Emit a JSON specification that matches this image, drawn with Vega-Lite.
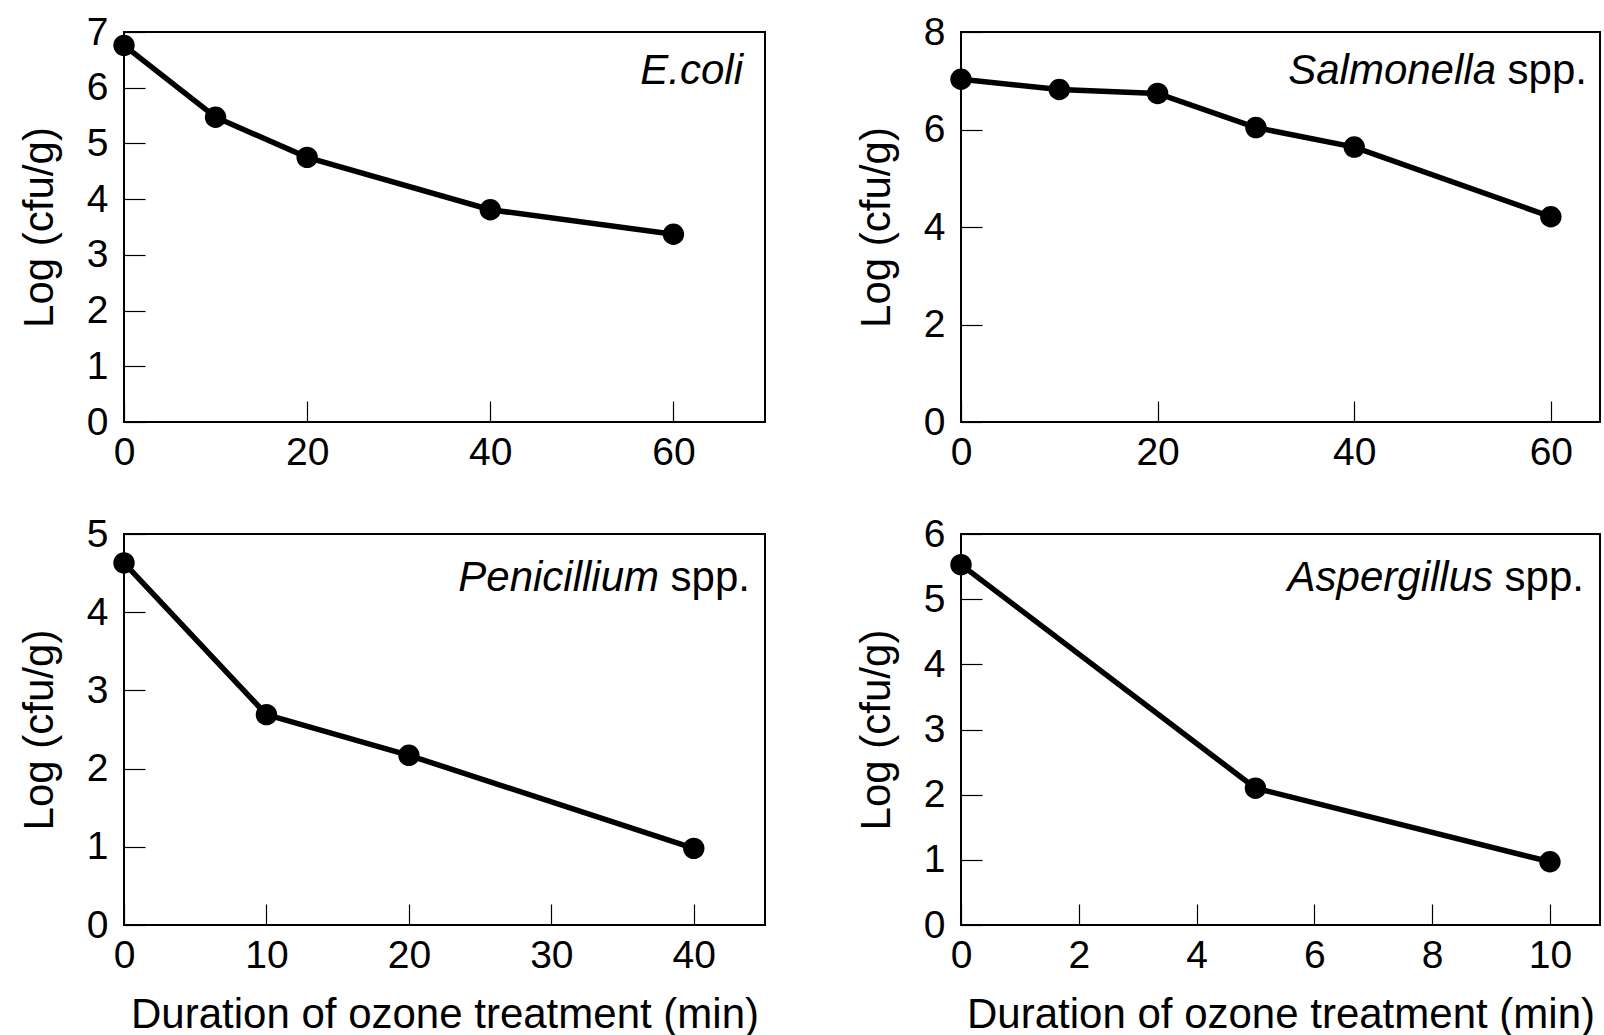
{
  "$schema": "https://vega.github.io/schema/vega-lite/v6.json",
  "background": "white",
  "padding": {"left": 17, "top": 12, "right": 0, "bottom": 0},
  "columns": 2,
  "spacing": {"row": 112, "column": 196},
  "bounds": "flush",
  "config": {
    "view": {"stroke": "black", "strokeWidth": 2},
    "axis": {
      "domain": false, "grid": false, "format": "d",
      "tickColor": "black", "tickWidth": 1.2, "tickSize": -21,
      "labelFont": "Liberation Sans", "labelFontSize": 39, "labelColor": "black",
      "titleFont": "Liberation Sans", "titleFontSize": 42, "titleFontWeight": "normal", "titleColor": "black",
      "labelFlush": false, "labelOverlap": false, "labelBound": false
    },
    "axisX": {"labelPadding": 32, "titlePadding": 19},
    "axisY": {"labelPadding": 37, "titlePadding": 25},
    "text": {"font": "Liberation Sans", "fontSize": 42, "color": "black"}
  },
  "concat": [
    {
      "width": 641, "height": 390,
      "data": {"values": [
        {"t": 0, "log": 6.76}, {"t": 10, "log": 5.47}, {"t": 20, "log": 4.75}, {"t": 40, "log": 3.81}, {"t": 60, "log": 3.37}
      ]},
      "layer": [
        {"mark": {"type": "line", "color": "black", "strokeWidth": 5.5},
         "encoding": {
           "x": {"field": "t", "type": "quantitative", "scale": {"domain": [0, 70], "nice": false}, "axis": {"values": [0, 20, 40, 60], "title": null}},
           "y": {"field": "log", "type": "quantitative", "scale": {"domain": [0, 7], "nice": false}, "axis": {"values": [0, 1, 2, 3, 4, 5, 6, 7], "title": "Log (cfu/g)"}}
         }},
        {"mark": {"type": "point", "filled": true, "color": "black", "opacity": 1, "size": 460},
         "encoding": {"x": {"field": "t", "type": "quantitative"}, "y": {"field": "log", "type": "quantitative"}}},
        {"data": {"values": [{"label": "E.coli"}]},
         "mark": {"type": "text", "fontStyle": "italic", "align": "right", "baseline": "alphabetic", "dx": -22, "dy": 52},
         "encoding": {"x": {"datum": 70, "type": "quantitative"}, "y": {"datum": 7, "type": "quantitative"}, "text": {"field": "label"}}}
      ]
    },
    {
      "width": 639, "height": 390,
      "data": {"values": [
        {"t": 0, "log": 7.03}, {"t": 10, "log": 6.82}, {"t": 20, "log": 6.74}, {"t": 30, "log": 6.04}, {"t": 40, "log": 5.64}, {"t": 60, "log": 4.21}
      ]},
      "layer": [
        {"mark": {"type": "line", "color": "black", "strokeWidth": 5.5},
         "encoding": {
           "x": {"field": "t", "type": "quantitative", "scale": {"domain": [0, 65], "nice": false}, "axis": {"values": [0, 20, 40, 60], "title": null}},
           "y": {"field": "log", "type": "quantitative", "scale": {"domain": [0, 8], "nice": false}, "axis": {"values": [0, 2, 4, 6, 8], "title": "Log (cfu/g)"}}
         }},
        {"mark": {"type": "point", "filled": true, "color": "black", "opacity": 1, "size": 460},
         "encoding": {"x": {"field": "t", "type": "quantitative"}, "y": {"field": "log", "type": "quantitative"}}},
        {"data": {"values": [{"genus": "Salmonella", "suffix": " spp."}]},
         "layer": [
           {"mark": {"type": "text", "align": "right", "baseline": "alphabetic", "dx": -13, "dy": 52},
            "encoding": {"x": {"datum": 65, "type": "quantitative"}, "y": {"datum": 8, "type": "quantitative"}, "text": {"field": "suffix"}}},
           {"mark": {"type": "text", "fontStyle": "italic", "align": "right", "baseline": "alphabetic", "dx": -104, "dy": 52},
            "encoding": {"x": {"datum": 65, "type": "quantitative"}, "y": {"datum": 8, "type": "quantitative"}, "text": {"field": "genus"}}}
         ]}
      ]
    },
    {
      "width": 641, "height": 391,
      "data": {"values": [
        {"t": 0, "log": 4.63}, {"t": 10, "log": 2.69}, {"t": 20, "log": 2.17}, {"t": 40, "log": 0.98}
      ]},
      "layer": [
        {"mark": {"type": "line", "color": "black", "strokeWidth": 5.5},
         "encoding": {
           "x": {"field": "t", "type": "quantitative", "scale": {"domain": [0, 45], "nice": false}, "axis": {"values": [0, 10, 20, 30, 40], "title": "Duration of ozone treatment (min)"}},
           "y": {"field": "log", "type": "quantitative", "scale": {"domain": [0, 5], "nice": false}, "axis": {"values": [0, 1, 2, 3, 4, 5], "title": "Log (cfu/g)"}}
         }},
        {"mark": {"type": "point", "filled": true, "color": "black", "opacity": 1, "size": 460},
         "encoding": {"x": {"field": "t", "type": "quantitative"}, "y": {"field": "log", "type": "quantitative"}}},
        {"data": {"values": [{"genus": "Penicillium", "suffix": " spp."}]},
         "layer": [
           {"mark": {"type": "text", "align": "right", "baseline": "alphabetic", "dx": -15, "dy": 57},
            "encoding": {"x": {"datum": 45, "type": "quantitative"}, "y": {"datum": 5, "type": "quantitative"}, "text": {"field": "suffix"}}},
           {"mark": {"type": "text", "fontStyle": "italic", "align": "right", "baseline": "alphabetic", "dx": -106, "dy": 57},
            "encoding": {"x": {"datum": 45, "type": "quantitative"}, "y": {"datum": 5, "type": "quantitative"}, "text": {"field": "genus"}}}
         ]}
      ]
    },
    {
      "width": 639, "height": 391,
      "data": {"values": [
        {"t": 0, "log": 5.53}, {"t": 5, "log": 2.1}, {"t": 10, "log": 0.97}
      ]},
      "layer": [
        {"mark": {"type": "line", "color": "black", "strokeWidth": 5.5},
         "encoding": {
           "x": {"field": "t", "type": "quantitative", "scale": {"domain": [0, 10.85], "nice": false}, "axis": {"values": [0, 2, 4, 6, 8, 10], "title": "Duration of ozone treatment (min)"}},
           "y": {"field": "log", "type": "quantitative", "scale": {"domain": [0, 6], "nice": false}, "axis": {"values": [0, 1, 2, 3, 4, 5, 6], "title": "Log (cfu/g)"}}
         }},
        {"mark": {"type": "point", "filled": true, "color": "black", "opacity": 1, "size": 460},
         "encoding": {"x": {"field": "t", "type": "quantitative"}, "y": {"field": "log", "type": "quantitative"}}},
        {"data": {"values": [{"genus": "Aspergillus", "suffix": " spp."}]},
         "layer": [
           {"mark": {"type": "text", "align": "right", "baseline": "alphabetic", "dx": -16, "dy": 57},
            "encoding": {"x": {"datum": 10.85, "type": "quantitative"}, "y": {"datum": 6, "type": "quantitative"}, "text": {"field": "suffix"}}},
           {"mark": {"type": "text", "fontStyle": "italic", "align": "right", "baseline": "alphabetic", "dx": -107, "dy": 57},
            "encoding": {"x": {"datum": 10.85, "type": "quantitative"}, "y": {"datum": 6, "type": "quantitative"}, "text": {"field": "genus"}}}
         ]}
      ]
    }
  ]
}
